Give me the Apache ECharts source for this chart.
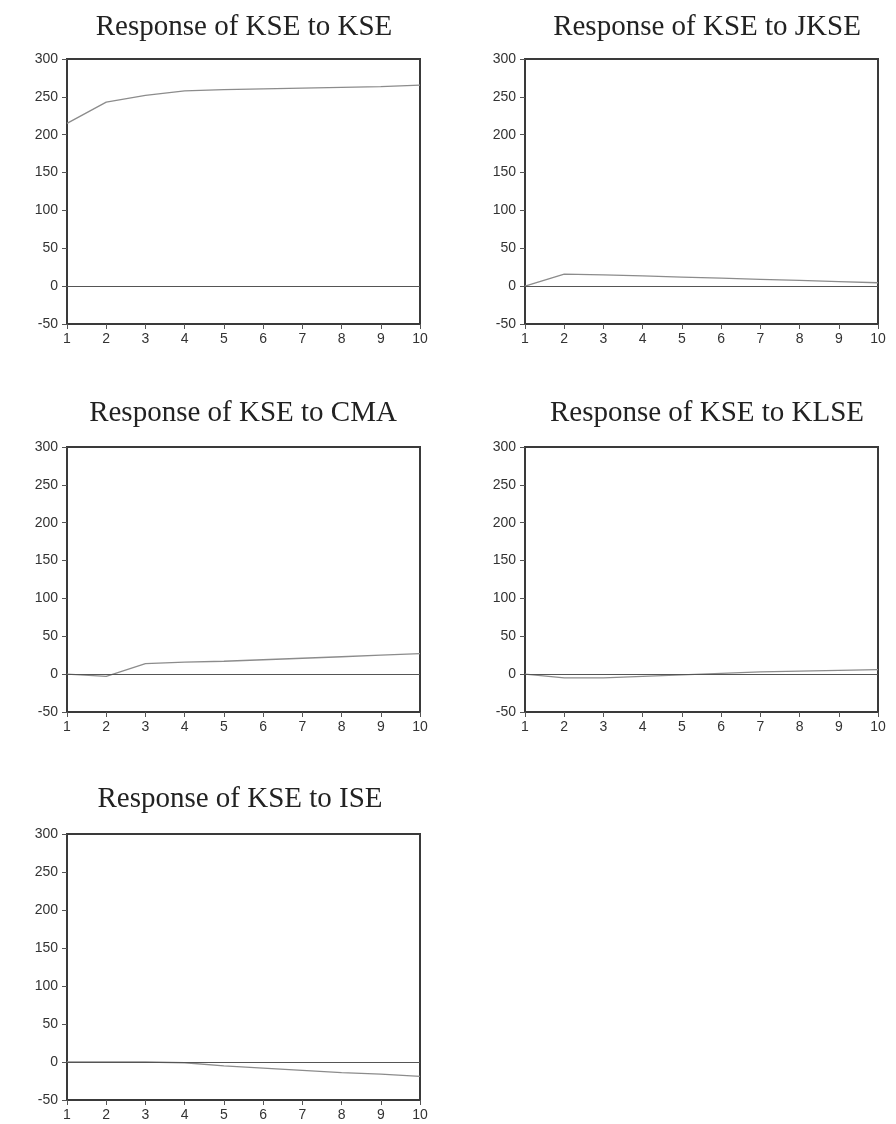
<!DOCTYPE html>
<html>
<head>
<meta charset="utf-8">
<script src="https://cdn.jsdelivr.net/npm/echarts@6/dist/echarts.min.js"></script>
<style>
html,body{margin:0;padding:0;background:#fff;}
#c{width:896px;height:1124px;}
</style>
</head>
<body>
<div id="c"></div>
<script>
var periods = ['1','2','3','4','5','6','7','8','9','10'];
var titles = ['Response of KSE to KSE','Response of KSE to JKSE','Response of KSE to CMA','Response of KSE to KLSE','Response of KSE to ISE'];
var kseToKse  = [215, 243, 252, 258, 259.5, 260.5, 261.5, 262.5, 263.5, 265.5];
var kseToJkse = [0, 16, 15, 13.5, 12, 10.5, 9, 7.5, 6, 4.5];
var kseToCma  = [0, -3, 14, 16, 17, 19, 21, 23, 25, 27];
var kseToKlse = [0, -5, -5, -3, -1, 1, 3, 4, 5, 6];
var kseToIse  = [0, 0, 0, -1, -5, -8, -11, -14, -16, -19];
var yMin = -50, yMax = 300, yStep = 50;

var seriesData = [kseToKse, kseToJkse, kseToCma, kseToKlse, kseToIse];
var grids = [
  {left:67, top:59, width:353, height:265},
  {left:525, top:59, width:353, height:265},
  {left:67, top:447, width:353, height:265},
  {left:525, top:447, width:353, height:265},
  {left:67, top:834, width:353, height:266}
];
var titlePos = [
  {x:244, top:13},
  {x:707, top:13},
  {x:243, top:399},
  {x:707, top:399},
  {x:240, top:785}
];

var option = {
  backgroundColor:'#fff',
  animation:false,
  title: titles.map(function(t,i){
    return {text:t, left:titlePos[i].x, top:titlePos[i].top, textAlign:'center', padding:0,
      textStyle:{fontFamily:'Liberation Serif', fontWeight:'normal', fontSize:29, color:'#222'}};
  }),
  grid: grids.map(function(g){
    return {left:g.left, top:g.top, width:g.width, height:g.height, show:true,
      borderColor:'#3a3a3a', borderWidth:2, backgroundColor:'#fff'};
  }),
  xAxis: grids.map(function(g,i){
    return {type:'category', gridIndex:i, data:periods, boundaryGap:false, position:'bottom',
      axisLine:{show:true, onZero:false, lineStyle:{color:'#3a3a3a', width:2}},
      axisTick:{show:true, inside:false, length:5, lineStyle:{color:'#555'}},
      axisLabel:{show:true, margin:8, fontFamily:'Liberation Sans', fontSize:14, color:'#333', interval:0},
      splitLine:{show:false}};
  }),
  yAxis: grids.map(function(g,i){
    return {type:'value', gridIndex:i, min:yMin, max:yMax, interval:yStep,
      axisLine:{show:true, onZero:false, lineStyle:{color:'#3a3a3a', width:2}},
      axisTick:{show:true, inside:false, length:5, lineStyle:{color:'#555'}},
      axisLabel:{show:true, margin:9, fontFamily:'Liberation Sans', fontSize:14, color:'#333'},
      splitLine:{show:false}};
  }),
  series: seriesData.map(function(d,i){
    return {type:'line', xAxisIndex:i, yAxisIndex:i, data:d, symbol:'none', silent:true,
      lineStyle:{color:'#8c8c8c', width:1.3},
      markLine:{silent:true, symbol:'none', label:{show:false}, animation:false,
        lineStyle:{color:'#555', type:'solid', width:1.2}, data:[{yAxis:0}]}};
  })
};
var chart = echarts.init(document.getElementById('c'), null, {renderer:'canvas'});
chart.setOption(option);
</script>
</body>
</html>
